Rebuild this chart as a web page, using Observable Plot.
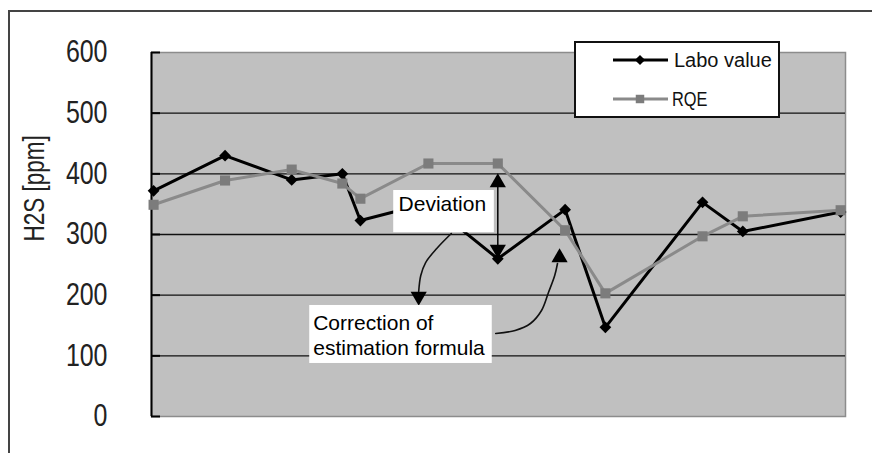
<!DOCTYPE html>
<html>
<head>
<meta charset="utf-8">
<script src="https://cdn.jsdelivr.net/npm/d3@7"></script>
<script src="https://cdn.jsdelivr.net/npm/@observablehq/plot@0.6"></script>
<style>
  html, body { margin: 0; padding: 0; background: #fff; }
  #wrap { position: relative; width: 872px; height: 453px; overflow: hidden; }
  #outer { position: absolute; left: 8px; top: 10px; width: 900px; height: 480px;
           border-left: 2px solid #444; border-top: 2px solid #444; box-sizing: border-box; }
  #chart { position: absolute; left: 0; top: 0; }
  #legend { position: absolute; left: 574px; top: 41px; width: 206px; height: 77px;
            box-sizing: border-box; border: 2px solid #111; background: #fff; }
</style>
</head>
<body>
<div id="wrap">
  <div id="outer"></div>
  <div id="chart"></div>
  <div id="legend"></div>
</div>
<script>
// Sampling day of each measurement and the two H2S series (ppm)
const sampleDay = [0.3, 10.6, 20.2, 27.5, 30.1, 39.9, 49.9, 59.6, 65.4, 79.4, 85.2, 99.3];
const laboValue = [372, 430, 390, 400, 323, 352, 260, 341, 147, 353, 305, 337];
const rqeValue  = [349, 389, 407, 384, 359, 417, 417, 307, 203, 297, 330, 340];
const yTicks = [0, 100, 200, 300, 400, 500, 600];
const yLabel = "H2S [ppm]";
const seriesNames = ["Labo value", "RQE"];

// Callout geometry, in day / ppm units
const deviationBox = [{x1: 34.9, x2: 49.4, y1: 303, y2: 372.5}];
const deviationText = [{day: 35.6, ppm: 350, text: "Deviation"}];
const deviationSpan = [{day: sampleDay[6], top: 397, bottom: 264}];
const correctionBox = [{x1: 22.8, x2: 49.1, y1: 87.4, y2: 183}];
const correctionText = [{day: 23.3, ppm: 171.3, text: "Correction of\nestimation formula"}];
const curveToDeviation = {
  day: [43.2, 41.1, 39.5, 38.8, 38.5],
  ppm: [301.6, 276.9, 253.8, 232.4, 206.0],
  tip: {day: 38.5, ppm: 186.3}
};
const curveToCorrection = {
  day: [49.6, 52.4, 54.6, 56.2, 57.2, 58.1, 58.5],
  ppm: [136.8, 141.8, 153.3, 174.7, 204.4, 232.4, 252.2],
  tip: {day: 58.8, ppm: 273.6}
};

const labo = sampleDay.map((d, i) => ({day: d, ppm: laboValue[i]}));
const rqe = sampleDay.map((d, i) => ({day: d, ppm: rqeValue[i]}));
const toPoints = c => c.day.map((d, i) => ({day: d, ppm: c.ppm[i]}));

const BLACK = "#000";
const GREY_LINE = "#8a8a8a";
const GREY_MARK = "#7c7c7c";
const SANS = "'Liberation Sans', Arial, sans-serif";
const HEAD = 6; // arrowhead size

const chart = Plot.plot({
  width: 872,
  height: 453,
  marginLeft: 151,
  marginRight: 27,
  marginTop: 52,
  marginBottom: 37,
  style: {background: "transparent", fontFamily: SANS, overflow: "visible"},
  x: {domain: [0, 100], axis: null},
  y: {domain: [0, 600], axis: null},
  marks: [
    Plot.frame({fill: "#c0c0c0", stroke: "#8c8c8c", strokeWidth: 1.5}),
    Plot.gridY(yTicks.filter(t => t > 0 && t < 600), {stroke: "#111", strokeOpacity: 1, strokeWidth: 1.3}),
    Plot.ruleX([0], {stroke: BLACK, strokeWidth: 2}),
    // inward tick marks along the value axis
    Plot.axisY(yTicks, {tickSize: 9, dx: 9, fill: "none", stroke: BLACK, strokeWidth: 2, label: null}),
    Plot.axisY(yTicks, {tickSize: 0, tickPadding: 44, fontSize: 29, fill: "#222", label: null, className: "yticks"}),
    Plot.text([yLabel], {frameAnchor: "left", dx: -117, dy: 7, rotate: -90, fontSize: 30,
      fill: "#222", className: "ylabel"}),

    // series
    Plot.line(labo, {x: "day", y: "ppm", stroke: BLACK, strokeWidth: 3}),
    Plot.dot(labo, {x: "day", y: "ppm", symbol: "diamond2", r: 5.3, fill: BLACK}),
    Plot.line(rqe, {x: "day", y: "ppm", stroke: GREY_LINE, strokeWidth: 3}),
    Plot.dot(rqe, {x: "day", y: "ppm", symbol: "square", r: 5.7, fill: GREY_MARK}),

    // "Deviation" callout
    Plot.rect(deviationBox, {x1: "x1", x2: "x2", y1: "y1", y2: "y2", fill: "#fff"}),
    Plot.text(deviationText, {x: "day", y: "ppm", text: "text", textAnchor: "start",
      fontSize: 21, fill: BLACK}),
    Plot.ruleX(deviationSpan, {x: "day", y1: "top", y2: "bottom", stroke: BLACK, strokeWidth: 1.5, insetTop: 8, insetBottom: 8}),
    Plot.dot(deviationSpan, {x: "day", y: "top", symbol: "triangle", r: HEAD, fill: BLACK, dy: 7}),
    Plot.dot(deviationSpan, {x: "day", y: "bottom", symbol: "triangle", r: HEAD, fill: BLACK, rotate: 180, dy: -7}),
    Plot.line(toPoints(curveToDeviation), {x: "day", y: "ppm", curve: "catmull-rom", stroke: "#111", strokeWidth: 1.6}),
    Plot.dot([curveToDeviation.tip], {x: "day", y: "ppm", symbol: "triangle", r: HEAD, fill: BLACK, rotate: 180, dy: -7}),

    // "Correction of estimation formula" callout
    Plot.rect(correctionBox, {x1: "x1", x2: "x2", y1: "y1", y2: "y2", fill: "#fff"}),
    Plot.text(correctionText, {x: "day", y: "ppm", text: "text", textAnchor: "start",
      lineAnchor: "top", lineHeight: 1.19, fontSize: 21, fill: BLACK}),
    Plot.line(toPoints(curveToCorrection), {x: "day", y: "ppm", curve: "catmull-rom", stroke: "#111", strokeWidth: 1.6}),
    Plot.dot([curveToCorrection.tip], {x: "day", y: "ppm", symbol: "triangle", r: HEAD, fill: BLACK, dy: 7})
  ]
});

// narrow the axis texts along their baselines
d3.select(chart).selectAll(".ylabel text").each(function () {
  const t = this.getAttribute("transform") || "";
  this.setAttribute("transform", t + " scale(0.75,1)");
});
d3.select(chart).selectAll(".yticks text").each(function () {
  const t = this.getAttribute("transform") || "";
  this.setAttribute("transform", t + " scale(0.86,1.05)");
});
document.getElementById("chart").appendChild(chart);

// legend: line + marker swatches
const lg = d3.select("#legend").append("svg").attr("width", 202).attr("height", 73)
  .style("position", "absolute").style("left", 0).style("top", 0);
const rows = [
  {name: seriesNames[0], y: 17, stroke: BLACK, fill: BLACK, symbol: d3.symbolDiamond2, size: 66, narrow: 1},
  {name: seriesNames[1], y: 56, stroke: GREY_LINE, fill: GREY_MARK, symbol: d3.symbolSquare, size: 72, narrow: 0.78}
];
rows.forEach(r => {
  lg.append("line").attr("x1", 37).attr("x2", 92).attr("y1", r.y).attr("y2", r.y)
    .attr("stroke", r.stroke).attr("stroke-width", 3);
  lg.append("path").attr("d", d3.symbol(r.symbol, r.size)())
    .attr("transform", `translate(64,${r.y})`).attr("fill", r.fill);
  lg.append("text").attr("transform", `translate(${r.narrow === 1 ? 98 : 96},${r.y + 7}) scale(${r.narrow},1)`)
    .attr("font-family", SANS).attr("font-size", r.narrow === 1 ? 20 : 21)
    .attr("fill", "#111").text(r.name);
});
</script>
</body>
</html>
